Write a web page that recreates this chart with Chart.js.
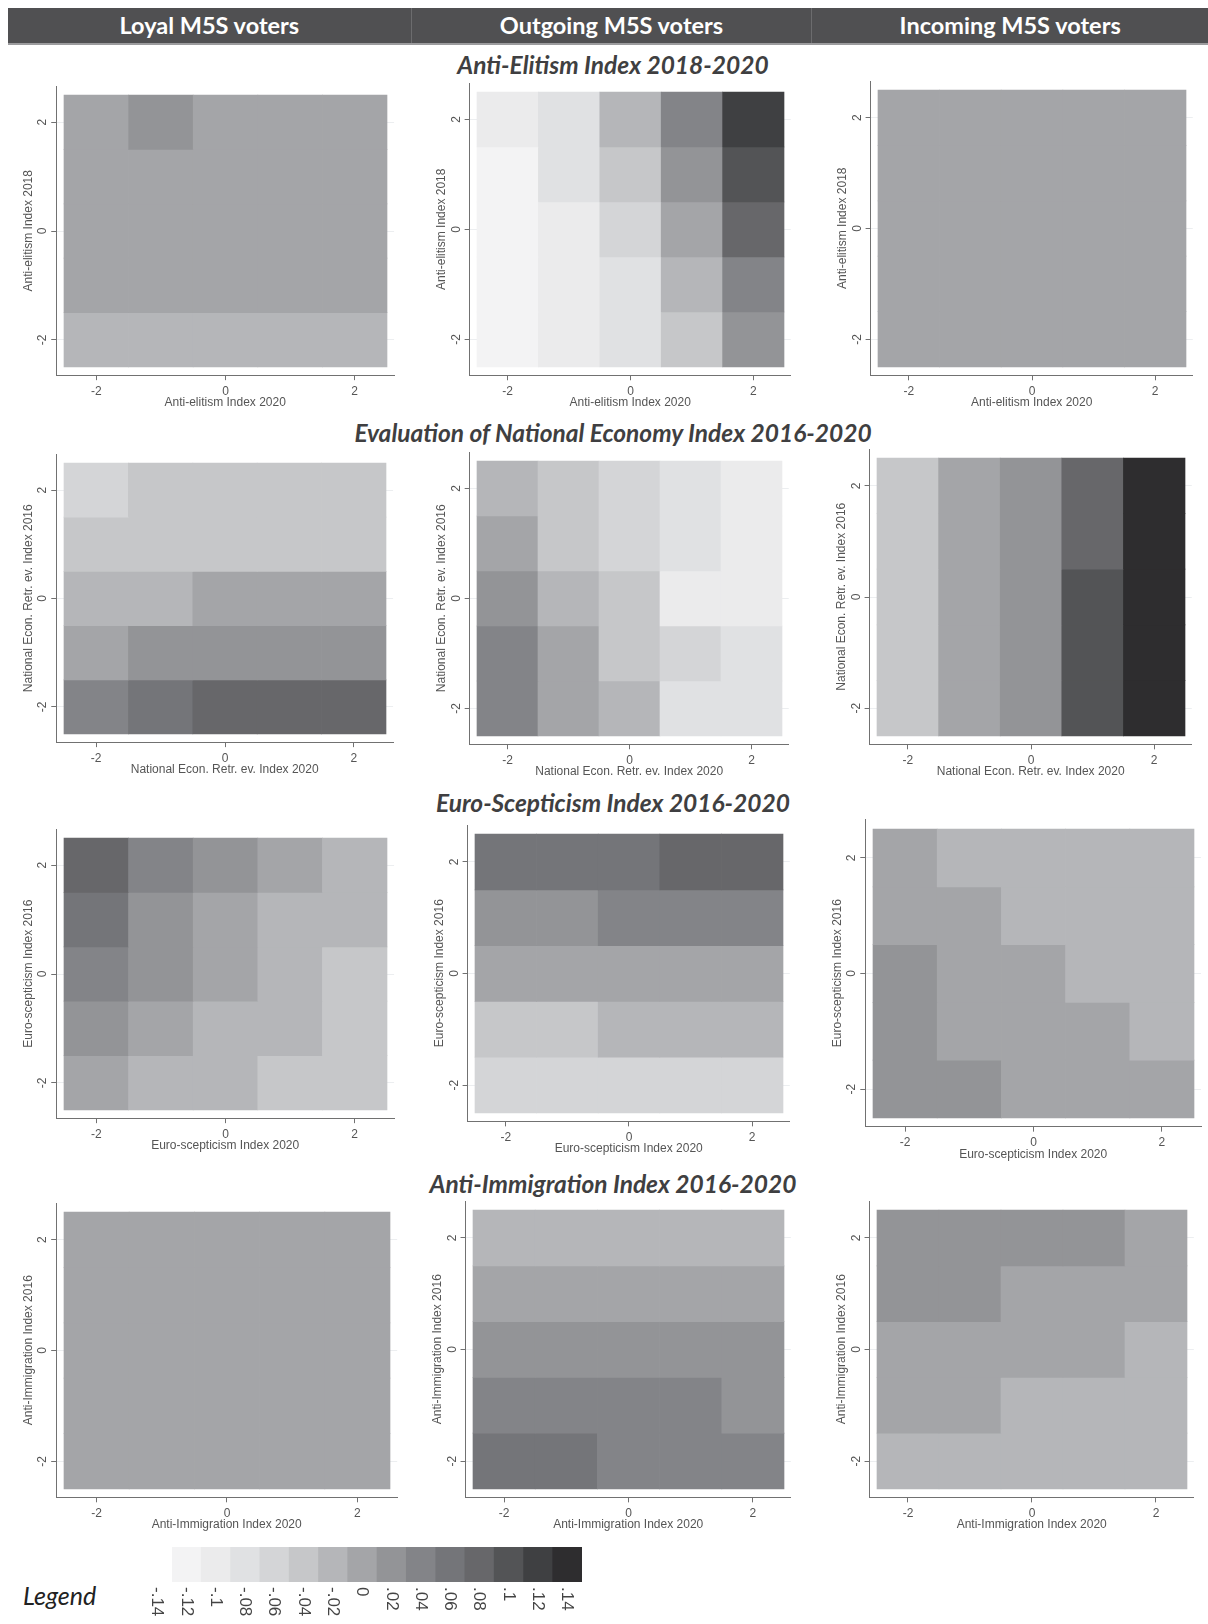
<!DOCTYPE html>
<html>
<head>
<meta charset="utf-8">
<title>M5S voters – index transitions</title>
<script src="https://cdn.jsdelivr.net/npm/chart.js@4.4.0/dist/chart.umd.min.js"></script>
<style>
    html, body { margin: 0; padding: 0; background: #fff; }
    #page { position: relative; width: 1208px; height: 1624px; overflow: hidden; font-family: Lato, 'Open Sans', sans-serif; }
    .header { position: absolute; left: 8px; top: 8px; width: 1200px; height: 35px; background: #505052; border-bottom: 2px solid #9c9c9e; display: flex; }
    .header div { color: #fff; font-weight: 700; font-size: 23.5px; line-height: 35px; text-align: center; }
    .header div + div { border-left: 1px solid #6c6c6e; }
    .section { position: absolute; left: 18px; width: 1190px; text-align: center; font-weight: 700; font-style: italic; font-size: 24.5px; line-height: 28px; color: #3f3f41; }
    .legend-word { position: absolute; left: 23px; top: 1580px; font-style: italic; font-size: 25px; line-height: 30px; color: #222; }
    canvas { position: absolute; }
</style>
</head>
<body>
<div id="page">
    <div class="header">
        <div style="width:403px">Loyal M5S voters</div>
        <div style="width:400px">Outgoing M5S voters</div>
        <div style="width:396px">Incoming M5S voters</div>
    </div>
    <div class="section" style="top:51px">Anti-Elitism Index 2018-2020</div>
    <div class="section" style="top:419px">Evaluation of National Economy Index 2016-2020</div>
    <div class="section" style="top:789px">Euro-Scepticism Index 2016-2020</div>
    <div class="section" style="top:1170px">Anti-Immigration Index 2016-2020</div>
    <div class="legend-word">Legend</div>
</div>
<script>
// cell centres on both axes (rows are listed from the top, y = 2, down to y = -2)
const xCells = [-2, -1, 0, 1, 2];
const yCells = [2, 1, 0, -1, -2];
const axisTicks = [-2, 0, 2];

// legend scale: 14 grey classes between these breaks
const legendTicks = [-0.14, -0.12, -0.10, -0.08, -0.06, -0.04, -0.02, 0, 0.02, 0.04, 0.06, 0.08, 0.10, 0.12, 0.14];
const legendTickLabels = ['-.14', '-.12', '-.1', '-.08', '-.06', '-.04', '-.02', '0', '.02', '.04', '.06', '.08', '.1', '.12', '.14'];
const legendGrays = ['#f3f3f4', '#ebebec', '#e0e1e3', '#d4d5d7', '#c6c7c9', '#b5b6b9', '#a4a5a8',
                     '#939497', '#838488', '#747579', '#67676a', '#535456', '#3f4042', '#2e2d2f'];

// Anti-elitism 2018 (rows) x 2020 (columns)
const loyalAntiElitism = [
    [-0.01, 0.01, -0.01, -0.01, -0.01],
    [-0.01, -0.01, -0.01, -0.01, -0.01],
    [-0.01, -0.01, -0.01, -0.01, -0.01],
    [-0.01, -0.01, -0.01, -0.01, -0.01],
    [-0.03, -0.03, -0.03, -0.03, -0.03]
];
const outgoingAntiElitism = [
    [-0.11, -0.09, -0.03, 0.03, 0.11],
    [-0.13, -0.09, -0.05, 0.01, 0.09],
    [-0.13, -0.11, -0.07, -0.01, 0.07],
    [-0.13, -0.11, -0.09, -0.03, 0.03],
    [-0.13, -0.11, -0.09, -0.05, 0.01]
];
const incomingAntiElitism = [
    [-0.01, -0.01, -0.01, -0.01, -0.01],
    [-0.01, -0.01, -0.01, -0.01, -0.01],
    [-0.01, -0.01, -0.01, -0.01, -0.01],
    [-0.01, -0.01, -0.01, -0.01, -0.01],
    [-0.01, -0.01, -0.01, -0.01, -0.01]
];

// National economy retrospective evaluation 2016 x 2020
const loyalEconomy = [
    [-0.07, -0.05, -0.05, -0.05, -0.05],
    [-0.05, -0.05, -0.05, -0.05, -0.05],
    [-0.03, -0.03, -0.01, -0.01, -0.01],
    [-0.01, 0.01, 0.01, 0.01, 0.01],
    [0.03, 0.05, 0.07, 0.07, 0.07]
];
const outgoingEconomy = [
    [-0.03, -0.05, -0.07, -0.09, -0.11],
    [-0.01, -0.05, -0.07, -0.09, -0.11],
    [0.01, -0.03, -0.05, -0.11, -0.11],
    [0.03, -0.01, -0.05, -0.07, -0.09],
    [0.03, -0.01, -0.03, -0.09, -0.09]
];
const incomingEconomy = [
    [-0.05, -0.01, 0.01, 0.07, 0.13],
    [-0.05, -0.01, 0.01, 0.07, 0.13],
    [-0.05, -0.01, 0.01, 0.09, 0.13],
    [-0.05, -0.01, 0.01, 0.09, 0.13],
    [-0.05, -0.01, 0.01, 0.09, 0.13]
];

// Euro-scepticism 2016 x 2020
const loyalEuro = [
    [0.07, 0.03, 0.01, -0.01, -0.03],
    [0.05, 0.01, -0.01, -0.03, -0.03],
    [0.03, 0.01, -0.01, -0.03, -0.05],
    [0.01, -0.01, -0.03, -0.03, -0.05],
    [-0.01, -0.03, -0.03, -0.05, -0.05]
];
const outgoingEuro = [
    [0.05, 0.05, 0.05, 0.07, 0.07],
    [0.01, 0.01, 0.03, 0.03, 0.03],
    [-0.01, -0.01, -0.01, -0.01, -0.01],
    [-0.05, -0.05, -0.03, -0.03, -0.03],
    [-0.07, -0.07, -0.07, -0.07, -0.07]
];
const incomingEuro = [
    [-0.01, -0.03, -0.03, -0.03, -0.03],
    [-0.01, -0.01, -0.03, -0.03, -0.03],
    [0.01, -0.01, -0.01, -0.03, -0.03],
    [0.01, -0.01, -0.01, -0.01, -0.03],
    [0.01, 0.01, -0.01, -0.01, -0.01]
];

// Anti-immigration 2016 x 2020
const loyalImmigration = [
    [-0.01, -0.01, -0.01, -0.01, -0.01],
    [-0.01, -0.01, -0.01, -0.01, -0.01],
    [-0.01, -0.01, -0.01, -0.01, -0.01],
    [-0.01, -0.01, -0.01, -0.01, -0.01],
    [-0.01, -0.01, -0.01, -0.01, -0.01]
];
const outgoingImmigration = [
    [-0.03, -0.03, -0.03, -0.03, -0.03],
    [-0.01, -0.01, -0.01, -0.01, -0.01],
    [0.01, 0.01, 0.01, 0.01, 0.01],
    [0.03, 0.03, 0.03, 0.03, 0.01],
    [0.05, 0.05, 0.03, 0.03, 0.03]
];
const incomingImmigration = [
    [0.01, 0.01, 0.01, 0.01, -0.01],
    [0.01, 0.01, -0.01, -0.01, -0.01],
    [-0.01, -0.01, -0.01, -0.01, -0.03],
    [-0.01, -0.01, -0.03, -0.03, -0.03],
    [-0.03, -0.03, -0.03, -0.03, -0.03]
];

// axis ranges (a little wider than the 5x5 grid, like the Stata plot region)
const X_MIN = -2.62, X_MAX = 2.61, Y_MIN = -2.65, Y_MAX = 2.66;
const YW = 35, XH = 35, PAD_T = 4, PAD_R = 4;
const AXIS = '#717171', TXT = '#555';

Chart.defaults.font.family = "'Liberation Sans', Arial, sans-serif";
Chart.defaults.font.size = 12;
Chart.defaults.color = TXT;

const T1 = ['Anti-elitism Index 2020', 'Anti-elitism Index 2018'];
const T2 = ['National Econ. Retr. ev. Index 2020', 'National Econ. Retr. ev. Index 2016'];
const T3 = ['Euro-scepticism Index 2020', 'Euro-scepticism Index 2016'];
const T4 = ['Anti-Immigration Index 2020', 'Anti-Immigration Index 2016'];

// heat area on the page: [left, right, top, bottom]
const panels = [
    { cells: loyalAntiElitism,    titles: T1, box: [64, 387, 95, 367] },
    { cells: outgoingAntiElitism, titles: T1, box: [477, 784, 92, 367] },
    { cells: incomingAntiElitism, titles: T1, box: [878, 1186, 90, 367] },
    { cells: loyalEconomy,        titles: T2, box: [64, 386, 463, 734] },
    { cells: outgoingEconomy,     titles: T2, box: [477, 782, 461, 736] },
    { cells: incomingEconomy,     titles: T2, box: [877, 1185, 458, 736] },
    { cells: loyalEuro,           titles: T3, box: [64, 387, 838, 1110] },
    { cells: outgoingEuro,        titles: T3, box: [475, 783, 834, 1113] },
    { cells: incomingEuro,        titles: T3, box: [873, 1194, 829, 1118] },
    { cells: loyalImmigration,    titles: T4, box: [64, 390, 1212, 1489] },
    { cells: outgoingImmigration, titles: T4, box: [473, 784, 1210, 1489] },
    { cells: incomingImmigration, titles: T4, box: [877, 1187, 1210, 1489] }
];

function grayFor(v) {
    const step = legendTicks[1] - legendTicks[0];
    const i = Math.floor((v - legendTicks[0]) / step + 1e-6);
    return legendGrays[Math.max(0, Math.min(legendGrays.length - 1, i))];
}

function addCanvas(left, top, width, height) {
    const c = document.createElement('canvas');
    c.width = width;
    c.height = height;
    c.style.left = left + 'px';
    c.style.top = top + 'px';
    c.style.width = width + 'px';
    c.style.height = height + 'px';
    document.getElementById('page').appendChild(c);
    return c;
}

function drawPanel(p) {
    const [hl, hr, ht, hb] = p.box;
    const uw = (hr - hl) / 5, uh = (hb - ht) / 5;
    const left = hl - (-2.5 - X_MIN) * uw;
    const right = hr + (X_MAX - 2.5) * uw;
    const top = ht - (Y_MAX - 2.5) * uh;
    const bottom = hb + (-2.5 - Y_MIN) * uh;

    const cl = Math.floor(left - YW), ct = Math.floor(top - PAD_T);
    const w = Math.ceil(right + PAD_R - cl), h = Math.ceil(bottom + XH - ct);
    const canvas = addCanvas(cl, ct, w, h);

    // one floating-bar dataset per row of cells
    const datasets = yCells.map((yv, r) => ({
        data: xCells.map(xv => ({ x: xv, y: [yv - 0.5, yv + 0.5] })),
        backgroundColor: p.cells[r].map(grayFor),
        borderWidth: 0,
        grouped: false,
        barPercentage: 1,
        categoryPercentage: 1
    }));

    new Chart(canvas, {
        type: 'bar',
        data: { datasets },
        options: {
            responsive: false,
            animation: false,
            layout: {
                padding: {
                    left: left - YW - cl,
                    top: top - ct,
                    right: cl + w - right,
                    bottom: ct + h - (bottom + XH)
                }
            },
            plugins: { legend: { display: false }, tooltip: { enabled: false } },
            scales: {
                x: {
                    type: 'linear',
                    min: X_MIN,
                    max: X_MAX,
                    offset: false,
                    afterBuildTicks: s => { s.ticks = axisTicks.map(v => ({ value: v })); },
                    afterFit: s => { s.height = XH; s.paddingLeft = 0; s.paddingRight = 0; },
                    grid: { offset: false, drawOnChartArea: false, tickLength: 5, tickColor: AXIS },
                    border: { color: AXIS, width: 1 },
                    ticks: { padding: 4, maxRotation: 0, color: TXT, callback: v => String(v) },
                    title: { display: true, text: p.titles[0], color: TXT, padding: 0 }
                },
                y: {
                    type: 'linear',
                    min: Y_MIN,
                    max: Y_MAX,
                    afterBuildTicks: s => { s.ticks = axisTicks.map(v => ({ value: v })); },
                    // fixed width, and no extra room reserved for the end labels
                    afterFit: s => { s.width = YW; s.paddingTop = 0; s.paddingBottom = 0; },
                    grid: { color: '#eceef0', tickLength: 5, tickColor: AXIS },
                    border: { color: AXIS, width: 1 },
                    ticks: { padding: 3, minRotation: 90, maxRotation: 90, crossAlign: 'center', color: TXT, callback: v => String(v) },
                    title: { display: true, text: p.titles[1], color: TXT, padding: 0 }
                }
            }
        }
    });
}

panels.forEach(drawPanel);

// legend bar with rotated value labels under it
const legendLabels = {
    id: 'legendLabels',
    afterDraw(chart) {
        const xs = chart.scales.x;
        const ctx = chart.ctx;
        ctx.save();
        ctx.fillStyle = '#444';
        ctx.font = "17px 'Liberation Sans', Arial, sans-serif";
        ctx.textAlign = 'left';
        ctx.textBaseline = 'middle';
        legendTicks.forEach((v, i) => {
            const px = xs.getPixelForValue(v) - 15;
            ctx.save();
            ctx.translate(px, chart.chartArea.bottom + 5);
            ctx.rotate(Math.PI / 2);
            ctx.fillText(legendTickLabels[i], 0, 0);
            ctx.restore();
        });
        ctx.restore();
    }
};

(function drawLegend() {
    const canvas = addCanvas(140, 1540, 470, 84);
    const centers = legendGrays.map((g, i) => (legendTicks[i] + legendTicks[i + 1]) / 2);
    new Chart(canvas, {
        type: 'bar',
        data: {
            datasets: [{
                data: centers.map(c => ({ x: c, y: [0, 1] })),
                backgroundColor: legendGrays,
                borderWidth: 0,
                grouped: false,
                barPercentage: 1,
                categoryPercentage: 1
            }]
        },
        options: {
            responsive: false,
            animation: false,
            layout: { padding: { left: 32, right: 28, top: 7, bottom: 42 } },
            plugins: { legend: { display: false }, tooltip: { enabled: false } },
            scales: {
                x: {
                    type: 'linear',
                    min: legendTicks[0],
                    max: legendTicks[legendTicks.length - 1],
                    offset: false,
                    afterBuildTicks: s => { s.ticks = legendTicks.map(v => ({ value: v })); },
                    afterFit: s => { s.height = 0; },
                    grid: { display: false },
                    border: { display: false },
                    ticks: { display: false }
                },
                y: { display: false, min: 0, max: 1 }
            }
        },
        plugins: [legendLabels]
    });
})();
</script>
</body>
</html>
